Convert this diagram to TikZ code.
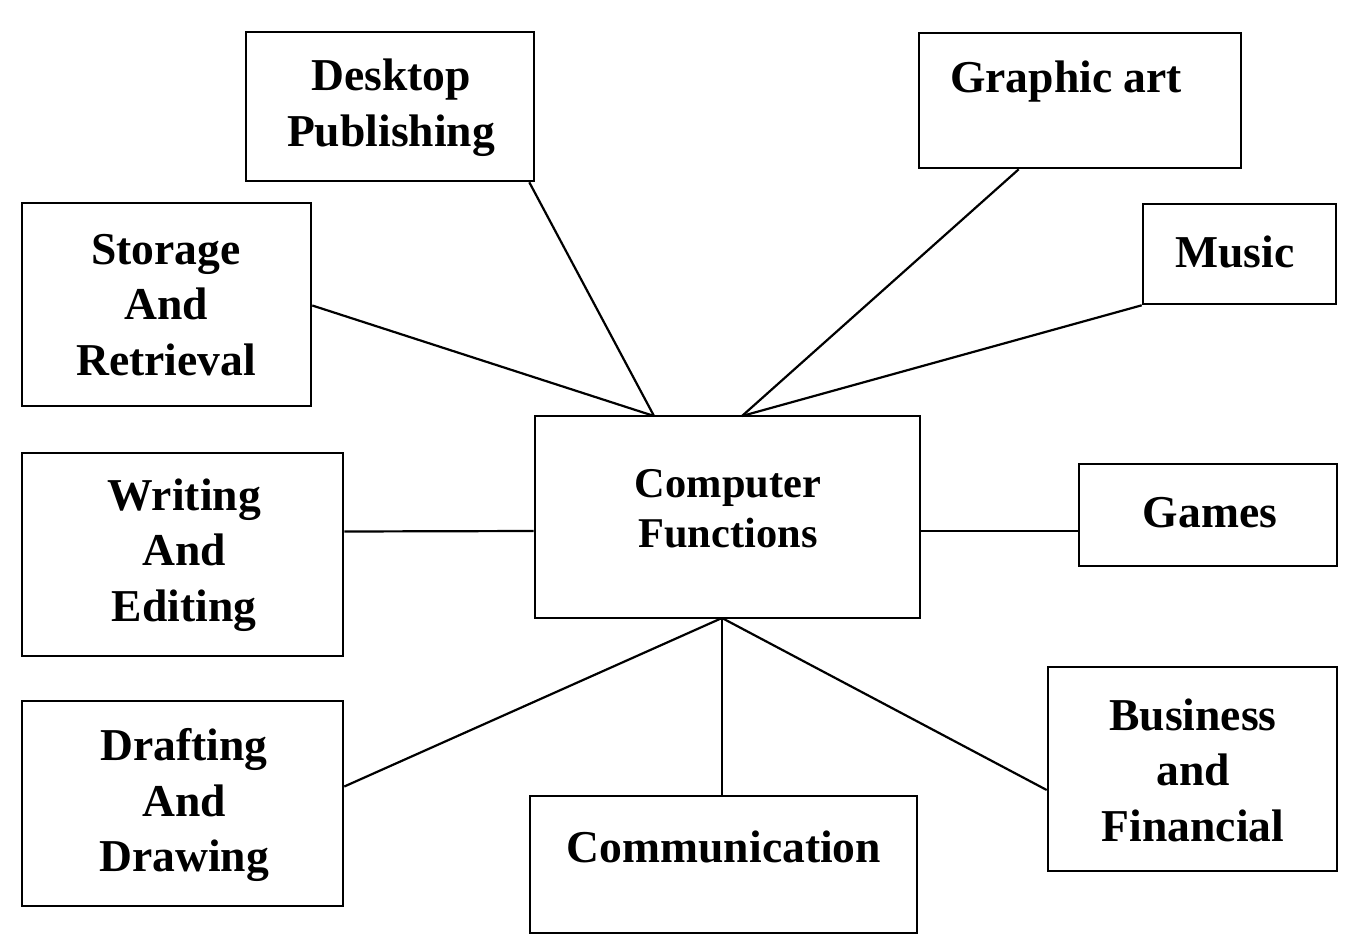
\documentclass[tikz,border=0pt]{standalone}
\usepackage{fontspec}
\setmainfont{Liberation Serif}
\usetikzlibrary{calc}
\begin{document}
\begin{tikzpicture}[x=0.5pt,y=-0.5pt,
  box/.style={draw=black,line width=1.3pt,rectangle,inner sep=0pt},
  txt/.style={font=\bfseries\fontsize{22.8}{27.8}\selectfont,align=center,inner sep=0pt},
  link/.style={draw=black,line width=1.1pt}]
\useasboundingbox (0,0) rectangle (1359,952);
% boxes (center, size)
\node[box,minimum width=144pt,minimum height=74.5pt] (dp) at (390,106.5) {};
\node[box,minimum width=161pt,minimum height=67.5pt] (ga) at (1080,100.5) {};
\node[box,minimum width=144.5pt,minimum height=101.5pt] (sr) at (166.5,304.5) {};
\node[box,minimum width=96.5pt,minimum height=50pt] (mu) at (1239.5,254) {};
\node[box,minimum width=192.5pt,minimum height=101pt] (cf) at (727.5,517) {};
\node[box,minimum width=160.5pt,minimum height=101.5pt] (we) at (182.5,554.5) {};
\node[box,minimum width=129pt,minimum height=51pt] (gm) at (1208,515) {};
\node[box,minimum width=160.5pt,minimum height=102.5pt] (dd) at (182.5,803.5) {};
\node[box,minimum width=193.5pt,minimum height=68.5pt] (cm) at (723.5,864.5) {};
\node[box,minimum width=144.5pt,minimum height=102pt] (bf) at (1192.5,769) {};
% texts
\node[txt] (tdp) at (391,108) {Desktop\\Publishing};
\node[txt] (tga) at (1066,82) {Graphic art};
\node[txt] (tsr) at (166,305) {Storage\\And\\Retrieval};
\node[txt] (tmu) at (1235,252) {Music};
\node[txt,font=\bfseries\fontsize{21.2}{25.2}\selectfont] (tcf) at (728,509) {Computer\\Functions};
\node[txt] (twe) at (184,555) {Writing\\And\\Editing};
\node[txt] (tgm) at (1210,513) {Games};
\node[txt] (tdd) at (184,805) {Drafting\\And\\Drawing};
\node[txt] (tcm) at (724,847) {Communication};
\node[txt] (tbf) at (1193,770) {Business\\and\\Financial};
% connection points
\coordinate (c1) at (654,416);
\coordinate (c2) at (742,416);
\coordinate (c3) at (722,618);
\draw[link] ($(dp.south east)+(-6,0)$) -- (c1);
\draw[link] ($(sr.east)+(0,1)$) -- (c1);
\draw[link] ($(ga.south west)+(101,0)$) -- (c2);
\draw[link] (mu.south west) -- (c2);
\draw[link] ($(we.east)+(0,-23)$) -- ($(cf.west)+(0,14)$);
\draw[link] ($(cf.east)+(0,14)$) -- ($(gm.west)+(0,16)$);
\draw[link] ($(dd.east)+(0,-17)$) -- (c3);
\draw[link] (c3) -- ($(cm.north)+(-1.5,0)$);
\draw[link] (c3) -- ($(bf.west)+(0,21)$);
\end{tikzpicture}
\end{document}
